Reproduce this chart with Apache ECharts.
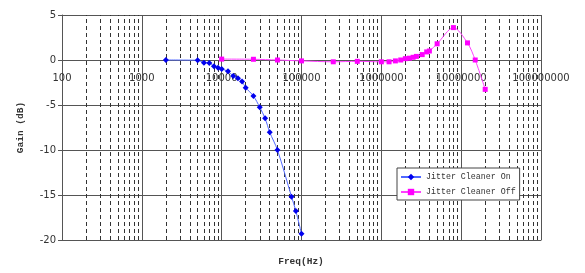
<!DOCTYPE html>
<html>
<head>
<meta charset="utf-8">
<script src="https://cdn.jsdelivr.net/npm/echarts@6/dist/echarts.min.js"></script>
<style>html,body{margin:0;padding:0;background:#fff}#c{width:585px;height:273px}</style>
</head>
<body>
<div id="c"></div>
<script>
// Frequencies (Hz) and gains (dB)
var onFreq = [2000, 5000, 6000, 7000, 8000, 9000, 10000, 12000, 14000, 16000, 18000, 20000, 25000, 30000, 35000, 40000, 50000, 75000, 85000, 100000];
var onGain = [0, -0.03, -0.3, -0.33, -0.7, -0.85, -1.0, -1.26, -1.78, -2.03, -2.4, -3.07, -4.0, -5.25, -6.48, -8.03, -10.0, -15.19, -16.78, -19.3];
var offFreq = [10000, 25000, 50000, 100000, 250000, 500000, 1000000, 1250000, 1500000, 1750000, 2000000, 2250000, 2500000, 2750000, 3250000, 3700000, 4000000, 5000000, 8000000, 12000000, 15000000, 20000000];
var offGain = [0.1, 0.08, 0, -0.1, -0.2, -0.15, -0.2, -0.2, -0.1, 0, 0.15, 0.2, 0.3, 0.4, 0.6, 0.9, 1.0, 1.8, 3.6, 1.9, 0, -3.26];
var xTickValues = [100, 1000, 10000, 100000, 1000000, 10000000, 100000000];
var xTickLabels = ['100', '1000', '10000', '100000', '1000000', '10000000', '100000000'];
var yTickLabels = ['-20', '-15', '-10', '-5', '0', '5'];
var seriesNames = ['Jitter Cleaner On', 'Jitter Cleaner Off'];

var minorLines = [];
for (var d = 0; d < xTickValues.length - 1; d++) {
  for (var m = 2; m <= 9; m++) minorLines.push({xAxis: xTickValues[d] * m});
}
function pairs(xs, ys) { return xs.map(function (x, i) { return [x, ys[i]]; }); }

var chart = echarts.init(document.getElementById('c'));
chart.setOption({
  animation: false,
  backgroundColor: '#fff',
  grid: {left: 62, right: 44, top: 15, bottom: 33, containLabel: false},
  xAxis: {
    type: 'log', logBase: 10, min: 100, max: 100000000,
    axisLine: {onZero: false, lineStyle: {color: '#555', width: 1}},
    axisTick: {show: false},
    axisLabel: {
      showMinLabel: true, showMaxLabel: true, margin: -167,
      fontFamily: 'DejaVu Sans', fontSize: 10, color: '#333',
      formatter: function (v) { var i = xTickValues.indexOf(Math.round(v)); return i >= 0 ? xTickLabels[i] : ''; }
    },
    splitLine: {show: true, lineStyle: {color: '#555', width: 1}}
  },
  yAxis: {
    type: 'value', min: -20, max: 5, interval: 5,
    name: 'Gain (dB)', nameLocation: 'middle', nameGap: 36,
    nameTextStyle: {fontFamily: 'Liberation Mono', fontSize: 9.5, fontWeight: 'bold', color: '#333'},
    axisLine: {show: true, lineStyle: {color: '#555', width: 1}},
    axisTick: {show: true, length: 4, lineStyle: {color: '#555'}},
    axisLabel: {fontFamily: 'DejaVu Sans', fontSize: 10, color: '#333', margin: 6,
      formatter: function (v) { return yTickLabels[Math.round((v + 20) / 5)]; }},
    splitLine: {show: true, lineStyle: {color: '#555', width: 1}}
  },
  legend: {
    orient: 'vertical', left: 397, top: 168,
    padding: [5, 4, 4, 3], itemGap: 7, itemWidth: 20, itemHeight: 8,
    backgroundColor: '#fff', borderColor: '#444', borderWidth: 1,
    textStyle: {fontFamily: 'Liberation Mono', fontSize: 8.3, color: '#333'},
    data: seriesNames
  },
  graphic: [{
    type: 'text', x: 301, y: 262,
    style: {text: 'Freq(Hz)', textAlign: 'center', textVerticalAlign: 'middle',
      font: 'bold 9.5px "Liberation Mono"', fill: '#333'}
  }],
  series: [{
    name: seriesNames[0], type: 'line', smooth: 0.3,
    data: pairs(onFreq, onGain),
    symbol: 'diamond', symbolSize: 6,
    itemStyle: {color: '#0000ee'},
    lineStyle: {color: '#5068ff', width: 1},
    z: 3,
    markLine: {
      silent: true, symbol: ['none', 'none'], label: {show: false},
      lineStyle: {type: [4, 3], color: '#333', width: 1},
      data: minorLines, z: 1
    }
  }, {
    name: seriesNames[1], type: 'line', smooth: 0.3,
    data: pairs(offFreq, offGain),
    symbol: 'rect', symbolSize: 5,
    itemStyle: {color: '#ff00ff'},
    lineStyle: {color: '#ff40ff', width: 1},
    z: 4
  }]
});
</script>
</body>
</html>
